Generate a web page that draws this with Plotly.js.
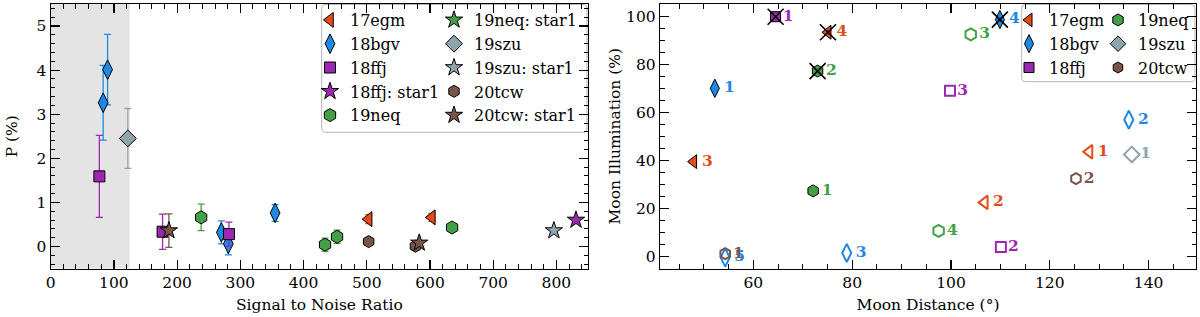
<!DOCTYPE html>
<html><head><meta charset="utf-8">
<script src="https://cdn.plot.ly/plotly-3.0.1.min.js"></script>
<style>body{margin:0;padding:0;background:#fff}#chart{width:1200px;height:317px}</style>
</head><body><div id="chart"></div>
<script>
// ===== Left panel: polarisation P (%) vs signal-to-noise ratio =====
const snr_17egm = [503, 603];
const p_17egm   = [0.62, 0.66];
const e_17egm   = [0.10, 0.09];

const snr_18bgv = [83, 90, 270, 281, 355];
const p_18bgv   = [3.26, 4.01, 0.32, 0.06, 0.76];
const e_18bgv   = [0.85, 0.80, 0.26, 0.25, 0.19];

const snr_18ffj = [77, 177, 282];
const p_18ffj   = [1.59, 0.335, 0.28];
const e_18ffj   = [0.93, 0.40, 0.27];

const snr_18ffj_s1 = [831];
const p_18ffj_s1   = [0.60];
const e_18ffj_s1   = [0.05];

const snr_19neq = [238, 434, 453, 635];
const p_19neq   = [0.66, 0.04, 0.22, 0.43];
const e_19neq   = [0.30, 0.15, 0.15, 0.05];

const snr_19neq_s1 = [null];   // no point visible in the panel (legend entry only)
const p_19neq_s1   = [null];
const e_19neq_s1   = [null];

const snr_19szu = [122];
const p_19szu   = [2.45];
const e_19szu   = [0.68];

const snr_19szu_s1 = [796];
const p_19szu_s1   = [0.36];
const e_19szu_s1   = [0.04];

const snr_20tcw = [503, 577];
const p_20tcw   = [0.11, 0.005];
const e_20tcw   = [0.07, 0.05];

const snr_20tcw_s1 = [187, 583];
const p_20tcw_s1   = [0.36, 0.08];
const e_20tcw_s1   = [0.38, 0.05];

const snrCut = 125;   // shaded low-SNR region

// ===== Right panel: moon illumination (%) vs moon distance (deg) =====
const dist_17egm  = [128.0, 106.8, 47.9, 75.1];
const illum_17egm = [43.6, 22.5, 39.5, 93.5];
const lab_17egm   = ['1', '2', '3', '4'];
const fill_17egm  = [false, false, true, true];
const cross_17egm = [false, false, false, true];

const dist_18bgv  = [52.2, 136.0, 78.9, 109.9, 54.3];
const illum_18bgv = [70.1, 57.0, 1.4, 98.8, -0.5];
const lab_18bgv   = ['1', '2', '3', '4', '5'];
const fill_18bgv  = [true, false, false, true, false];
const cross_18bgv = [false, false, false, true, false];

const dist_18ffj  = [64.5, 110.1, 99.8];
const illum_18ffj = [100.0, 3.9, 69.1];
const lab_18ffj   = ['1', '2', '3'];
const fill_18ffj  = [true, false, false];
const cross_18ffj = [true, false, false];

const dist_19neq  = [72.1, 73.0, 104.0, 97.5];
const illum_19neq = [27.3, 77.3, 92.6, 10.6];
const lab_19neq   = ['1', '2', '3', '4'];
const fill_19neq  = [true, true, false, false];
const cross_19neq = [false, true, false, false];

const dist_19szu  = [136.6];
const illum_19szu = [42.5];
const lab_19szu   = ['1'];
const fill_19szu  = [false];
const cross_19szu = [false];

const dist_20tcw  = [54.3, 125.3];
const illum_20tcw = [1.1, 32.4];
const lab_20tcw   = ['1', '2'];
const fill_20tcw  = [false, false];
const cross_20tcw = [false, false];

// ===== styles =====
const COL = {'17egm':'#E64A19','18bgv':'#1E88E5','18ffj':'#9C27B0','19neq':'#43A047','19szu':'#90A4AE','20tcw':'#795548'};
const SYM = {'17egm':'triangle-left','18bgv':'diamond-tall','18ffj':'square','19neq':'hexagon','19szu':'diamond','20tcw':'hexagon'};
const SIZE = {'17egm':13,'18bgv':14,'18ffj':11,'19neq':13,'19szu':13,'20tcw':12,'star':13};
const FONT = '"DejaVu Serif", "Liberation Serif", serif';

const leftSeries = [
  {name:'17egm',        key:'17egm', star:false, x:snr_17egm,    y:p_17egm,    e:e_17egm,    legend:'legend'},
  {name:'18bgv',        key:'18bgv', star:false, x:snr_18bgv,    y:p_18bgv,    e:e_18bgv,    legend:'legend'},
  {name:'18ffj',        key:'18ffj', star:false, x:snr_18ffj,    y:p_18ffj,    e:e_18ffj,    legend:'legend'},
  {name:'18ffj: star1', key:'18ffj', star:true,  x:snr_18ffj_s1, y:p_18ffj_s1, e:e_18ffj_s1, legend:'legend'},
  {name:'19neq',        key:'19neq', star:false, x:snr_19neq,    y:p_19neq,    e:e_19neq,    legend:'legend'},
  {name:'19neq: star1', key:'19neq', star:true,  x:snr_19neq_s1, y:p_19neq_s1, e:e_19neq_s1, legend:'legend2'},
  {name:'19szu',        key:'19szu', star:false, x:snr_19szu,    y:p_19szu,    e:e_19szu,    legend:'legend2'},
  {name:'19szu: star1', key:'19szu', star:true,  x:snr_19szu_s1, y:p_19szu_s1, e:e_19szu_s1, legend:'legend2'},
  {name:'20tcw',        key:'20tcw', star:false, x:snr_20tcw,    y:p_20tcw,    e:e_20tcw,    legend:'legend2'},
  {name:'20tcw: star1', key:'20tcw', star:true,  x:snr_20tcw_s1, y:p_20tcw_s1, e:e_20tcw_s1, legend:'legend2'}
];

const rightSeries = [
  {name:'17egm', x:dist_17egm, y:illum_17egm, t:lab_17egm, f:fill_17egm, c:cross_17egm, legend:'legend3'},
  {name:'18bgv', x:dist_18bgv, y:illum_18bgv, t:lab_18bgv, f:fill_18bgv, c:cross_18bgv, legend:'legend3'},
  {name:'18ffj', x:dist_18ffj, y:illum_18ffj, t:lab_18ffj, f:fill_18ffj, c:cross_18ffj, legend:'legend3'},
  {name:'19neq', x:dist_19neq, y:illum_19neq, t:lab_19neq, f:fill_19neq, c:cross_19neq, legend:'legend4'},
  {name:'19szu', x:dist_19szu, y:illum_19szu, t:lab_19szu, f:fill_19szu, c:cross_19szu, legend:'legend4'},
  {name:'20tcw', x:dist_20tcw, y:illum_20tcw, t:lab_20tcw, f:fill_20tcw, c:cross_20tcw, legend:'legend4'}
];

const traces = [];
leftSeries.forEach(s => {
  const col = COL[s.key];
  traces.push({
    type:'scatter', mode:'markers', name:s.name, x:s.x, y:s.y,
    xaxis:'x', yaxis:'y', legend:s.legend, legendgroup:s.name,
    error_y:{type:'data', array:s.e, visible:true, color:col, thickness:1.3, width:3.5},
    marker:{symbol: s.star ? 'star' : SYM[s.key], size: s.star ? SIZE.star : SIZE[s.key],
            color:col, line:{color:'black', width:1}},
    hoverinfo:'skip'
  });
});

const crossX = [], crossY = [];
rightSeries.forEach(s => {
  const col = COL[s.name];
  const sym = SYM[s.name];
  traces.push({
    type:'scatter', mode:'markers+text', name:s.name, x:s.x, y:s.y, text:s.t,
    xaxis:'x2', yaxis:'y2', showlegend:false,
    textposition:'middle right',
    textfont:{family:FONT, size:15.5, color:col, weight:'bold'},
    marker:{symbol: s.f.map(v => v ? sym : sym + '-open'),
            size: SIZE[s.name] - 1, color:col,
            line:{color:'black', width: s.f.map(v => v ? 1 : 2)}},
    hoverinfo:'skip'
  });
  s.c.forEach((v, i) => { if (v) { crossX.push(s.x[i]); crossY.push(s.y[i]); } });
  // legend entry (filled marker)
  traces.push({
    type:'scatter', mode:'markers', name:s.name, x:[null], y:[null],
    xaxis:'x2', yaxis:'y2', legend:s.legend, legendgroup:'r'+s.name,
    marker:{symbol:sym, size:SIZE[s.name] - 1, color:col, line:{color:'black', width:1}}
  });
});
traces.push({
  type:'scatter', mode:'markers', x:crossX, y:crossY, xaxis:'x2', yaxis:'y2', showlegend:false,
  marker:{symbol:'x-thin-open', size:16, color:'black', line:{color:'black', width:1.6}},
  hoverinfo:'skip'
});

// ===== layout =====
const W = 1200, H = 317;
function px(x){ return x / W; }
function py(y){ return 1 - y / H; }
function roundBox(x0, y0, x1, y1, r){
  const P = (x, y) => px(x).toFixed(5) + ',' + py(y).toFixed(5);
  return 'M' + P(x0 + r, y0) + ' L' + P(x1 - r, y0) + ' Q' + P(x1, y0) + ' ' + P(x1, y0 + r) +
         ' L' + P(x1, y1 - r) + ' Q' + P(x1, y1) + ' ' + P(x1 - r, y1) +
         ' L' + P(x0 + r, y1) + ' Q' + P(x0, y1) + ' ' + P(x0, y1 - r) +
         ' L' + P(x0, y0 + r) + ' Q' + P(x0, y0) + ' ' + P(x0 + r, y0) + ' Z';
}

const yDom = [py(268.5), py(4)];
function axisBase(){
  return {
    showgrid:false, zeroline:false, showline:true, linecolor:'black', linewidth:1.2,
    ticks:'inside', ticklen:9, tickwidth:1.2, tickcolor:'black', mirror:'allticks',
    tickfont:{family:FONT, size:15.5, color:'black'}, automargin:false,
    minor:{ticks:'inside', ticklen:4.5, tickwidth:1, tickcolor:'black', showgrid:false}
  };
}
const titleFont = {family:FONT, size:15.5, color:'black'};
const xaxis  = Object.assign(axisBase(), {domain:[px(50.7), px(588)], range:[0, 850], tick0:0, dtick:100, anchor:'y',
  title:{text:'Signal to Noise Ratio', font:titleFont, standoff:7}});
xaxis.minor.dtick = 20;
const yaxis  = Object.assign(axisBase(), {domain:yDom, range:[-0.5, 5.5], tick0:0, dtick:1, anchor:'x',
  title:{text:'P (%)', font:titleFont, standoff:15}});
yaxis.minor.dtick = 0.2;
const xaxis2 = Object.assign(axisBase(), {domain:[px(660), px(1196)], range:[41.1, 149.6], tick0:0, dtick:20, anchor:'y2',
  title:{text:'Moon Distance (°)', font:titleFont, standoff:7}});
xaxis2.minor.dtick = 5;
const yaxis2 = Object.assign(axisBase(), {domain:yDom, range:[-5.1, 105.3], tick0:0, dtick:20, anchor:'x2',
  title:{text:'Moon Illumination (%)', font:titleFont, standoff:1}});
yaxis2.minor.dtick = 5;

const legBase = {bgcolor:'rgba(0,0,0,0)', borderwidth:0, font:{family:FONT, size:16, color:'black'},
                 tracegroupgap:0, xanchor:'left', yanchor:'top', itemwidth:30};

const layout = {
  width:W, height:H, margin:{l:0, r:0, t:0, b:0},
  paper_bgcolor:'white', plot_bgcolor:'white',
  font:{family:FONT, size:15, color:'black'},
  xaxis, yaxis, xaxis2, yaxis2,
  legend:  Object.assign({}, legBase, {x:px(310),  y:py(3)}),
  legend2: Object.assign({}, legBase, {x:px(434),  y:py(3)}),
  legend3: Object.assign({}, legBase, {x:px(1009), y:py(3)}),
  legend4: Object.assign({}, legBase, {x:px(1098), y:py(3)}),
  shapes:[
    {type:'rect', xref:'x', yref:'y domain', x0:0, x1:snrCut, y0:0, y1:1,
     fillcolor:'#e4e4e4', line:{width:0}, layer:'below'},
    {type:'path', xref:'paper', yref:'paper', path:roundBox(321.7, 4.5, 587, 132.3, 4),
     fillcolor:'white', line:{color:'#b5b5b5', width:1}, layer:'below'},
    {type:'path', xref:'paper', yref:'paper', path:roundBox(1021.7, 4.5, 1195, 81.7, 4),
     fillcolor:'white', line:{color:'#b5b5b5', width:1}, layer:'below'}
  ],
  showlegend:true
};

Plotly.newPlot('chart', traces, layout, {staticPlot:true, displayModeBar:false});
</script>
</body></html>
